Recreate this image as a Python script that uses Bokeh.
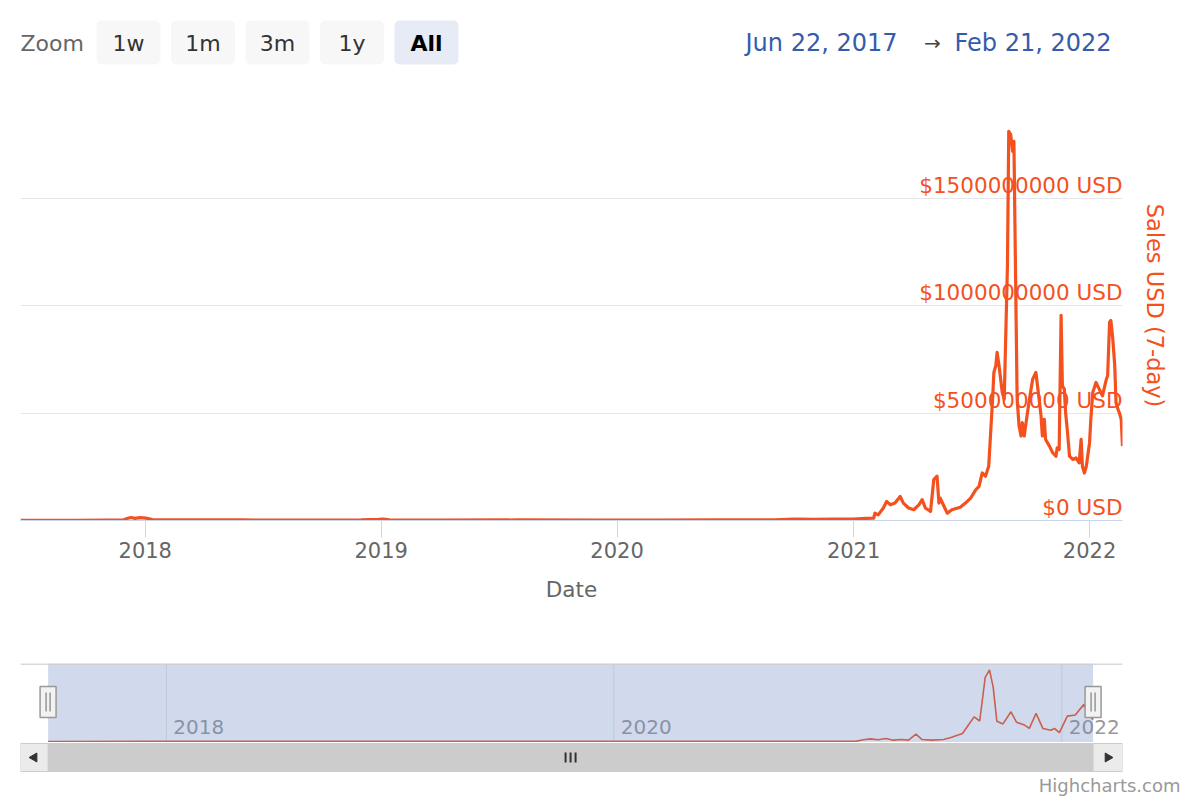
import pandas as pd
from bokeh.plotting import figure
from bokeh.models import (Range1d, LinearAxis, FixedTicker, Grid, DatetimeTickFormatter,
                          BoxAnnotation, Title)
from bokeh.layouts import column
from bokeh.core.properties import value
from bokeh.embed import file_html
from bokeh.resources import INLINE

# ---------------- data (USD millions, 7-day sales) ----------------
sales_dates = [
    "2017-06-22", "2017-08-01", "2017-09-15", "2017-11-01", "2017-11-28", "2017-12-04",
    "2017-12-10", "2017-12-16", "2017-12-24", "2018-01-02", "2018-01-12", "2018-02-15",
    "2018-04-01", "2018-06-01", "2018-09-01", "2018-12-01", "2018-12-28", "2019-01-04",
    "2019-01-14", "2019-04-01", "2019-08-01", "2019-12-01", "2020-03-01", "2020-06-01",
    "2020-09-01", "2020-10-01", "2020-11-01", "2020-12-01", "2021-01-01", "2021-01-20",
    "2021-02-01", "2021-02-03", "2021-02-08", "2021-02-16", "2021-02-21", "2021-02-27",
    "2021-03-06", "2021-03-14", "2021-03-19", "2021-03-27", "2021-04-04", "2021-04-12",
    "2021-04-17", "2021-04-22", "2021-04-30", "2021-05-05", "2021-05-10", "2021-05-13",
    "2021-05-15", "2021-05-21", "2021-05-26", "2021-06-02", "2021-06-15", "2021-06-23",
    "2021-07-01", "2021-07-09", "2021-07-14", "2021-07-19", "2021-07-24", "2021-07-29",
    "2021-08-01", "2021-08-04", "2021-08-06", "2021-08-09", "2021-08-11", "2021-08-14",
    "2021-08-19", "2021-08-22", "2021-08-27", "2021-08-29", "2021-09-01", "2021-09-04",
    "2021-09-06", "2021-09-09", "2021-09-11", "2021-09-14", "2021-09-17", "2021-09-19",
    "2021-09-22", "2021-09-24", "2021-09-30", "2021-10-05", "2021-10-10", "2021-10-15",
    "2021-10-18", "2021-10-20", "2021-10-23", "2021-10-25", "2021-10-31", "2021-11-05",
    "2021-11-10", "2021-11-12", "2021-11-15", "2021-11-18", "2021-11-20", "2021-11-23",
    "2021-11-25", "2021-11-28", "2021-12-01", "2021-12-06", "2021-12-11", "2021-12-16",
    "2021-12-19", "2021-12-21", "2021-12-24", "2021-12-27", "2022-01-01", "2022-01-03",
    "2022-01-06", "2022-01-11", "2022-01-16", "2022-01-21", "2022-01-27", "2022-01-29",
    "2022-02-01", "2022-02-03", "2022-02-06", "2022-02-09", "2022-02-11", "2022-02-14",
    "2022-02-16", "2022-02-19", "2022-02-21",
]
sales_musd = [
    0.5, 0.8, 1.0, 1.5, 2, 9,
    14, 10, 13, 11, 4, 3,
    3, 2.5, 2, 2.5, 5, 7,
    3, 2, 2.5, 2, 2, 2.5,
    3, 6, 5, 6, 7, 10,
    11, 34, 26, 58, 89, 73,
    81, 112, 81, 58, 50, 73,
    97, 58, 42, 190, 206, 81,
    104, 65, 34, 50, 62, 81,
    104, 143, 159, 221, 206, 252,
    408, 564, 689, 720, 782, 720,
    595, 564, 1187, 1810, 1795, 1717,
    1764, 1031, 564, 439, 393, 455,
    393, 439, 564, 657, 689, 564,
    486, 393, 471, 377, 346, 315,
    299, 338, 330, 954, 626, 611,
    502, 408, 299, 284, 291, 268,
    377, 252, 221, 252, 361, 471,
    595, 642, 611, 580, 657, 673,
    922, 930, 844, 720, 548, 517,
    502, 471, 346,
]

# navigator series (grouped / smoothed view of the same sales)
nav_dates = [
    "2017-06-22", "2017-12-12", "2018-01-15", "2019-01-05", "2020-10-01", "2021-01-25",
    "2021-01-30", "2021-02-11", "2021-02-23", "2021-03-07", "2021-03-20", "2021-04-01",
    "2021-04-14", "2021-04-26", "2021-05-08", "2021-05-18", "2021-06-03", "2021-06-22",
    "2021-07-04", "2021-07-23", "2021-08-01", "2021-08-11", "2021-08-20", "2021-08-29",
    "2021-09-05", "2021-09-11", "2021-09-17", "2021-09-27", "2021-10-10", "2021-10-19",
    "2021-11-01", "2021-11-09", "2021-11-20", "2021-12-01", "2021-12-14", "2021-12-20",
    "2021-12-28", "2022-01-10", "2022-01-23", "2022-02-06", "2022-02-11", "2022-02-21",
]
nav_musd = [
    1, 8, 3, 4, 4, 8,
    5, 43, 68, 45, 77, 34,
    50, 34, 188, 50, 34, 50,
    100, 205, 410, 630, 525, 1640,
    1835, 1390, 520, 450, 760, 495,
    420, 335, 720, 335, 290, 335,
    225, 650, 680, 950, 740, 560,
]

y_ticks = [0, 500_000_000, 1_000_000_000, 1_500_000_000, 2_000_000_000]
x_year_ticks = ["2018-01-01", "2019-01-01", "2020-01-01", "2021-01-01", "2022-01-01"]
nav_year_ticks = ["2018-01-01", "2020-01-01", "2022-01-01"]
zoom_buttons = ["1w", "1m", "3m", "1y", "All"]
selected_button = "All"
nav_span = ("2017-05-08", "2022-04-10")

# ---------------- styling ----------------
FONT = value("DejaVu Sans")
ORANGE = "#f4511e"
W = 1200
FRAME_L, FRAME_R = 20, 1122
BORDERS = dict(min_border_left=FRAME_L, min_border_right=W - FRAME_R)

sd = pd.to_datetime(sales_dates)
sv = [v * 1e6 for v in sales_musd]
nd = pd.to_datetime(nav_dates)
nv = [v * 1e6 for v in nav_musd]
t0, t1 = sd[0], sd[-1]


def ms(ts):
    return pd.Timestamp(ts).value / 1e6


def strip(fig):
    fig.outline_line_color = None
    for g in list(fig.grid):
        g.visible = False


# ---------------- header (zoom buttons + date range) ----------------
HH = 90
h = figure(width=W, height=HH, x_range=Range1d(FRAME_L, FRAME_R), y_range=Range1d(0, HH),
           output_backend="svg", toolbar_location=None, x_axis_location=None,
           y_axis_location=None, min_border_top=0, min_border_bottom=0, **BORDERS)
strip(h)
h.text(x=[20], y=[HH - 43], text=["Zoom"], text_font=FONT, text_font_size="22px",
       text_color="#666666", text_baseline="middle", text_align="left")
btn_left = 96
btn_w, btn_gap = 64, 10.5
for i, lab in enumerate(zoom_buttons):
    left = btn_left + i * (btn_w + btn_gap)
    sel = lab == selected_button
    h.add_layout(BoxAnnotation(left=left, right=left + btn_w, top=HH - 20, bottom=HH - 64,
                               fill_color="#e6ebf5" if sel else "#f7f7f7", fill_alpha=1.0,
                               line_color=None, border_radius=5, level="underlay"))
    h.text(x=[left + btn_w / 2], y=[HH - 43], text=[lab], text_font=FONT,
           text_font_size="22px", text_color="#000000" if sel else "#333333",
           text_font_style="bold" if sel else "normal",
           text_align="center", text_baseline="middle")
h.text(x=[745], y=[HH - 42], text=[t0.strftime("%b %d, %Y")], text_font=FONT,
       text_font_size="24px", text_color="#335cad", text_align="left", text_baseline="middle")
h.text(x=[932], y=[HH - 42], text=["\u2192"], text_font=FONT,
       text_font_size="20px", text_color="#444444", text_align="center", text_baseline="middle")
h.text(x=[1111], y=[HH - 42], text=[t1.strftime("%b %d, %Y")], text_font=FONT,
       text_font_size="24px", text_color="#335cad", text_align="right", text_baseline="middle")

# ---------------- main chart ----------------
p = figure(width=W, height=570, x_axis_type="datetime",
           x_range=Range1d(t0, t1), y_range=Range1d(0, y_ticks[-1]),
           output_backend="svg", toolbar_location=None, y_axis_location=None,
           min_border_top=0, min_border_bottom=140, **BORDERS)
strip(p)
p.add_layout(Grid(dimension=1, ticker=FixedTicker(ticks=y_ticks),
                  grid_line_color="#e6e6e6", grid_line_width=1))

xa = p.xaxis[0]
xa.ticker = FixedTicker(ticks=[ms(t) for t in x_year_ticks])
xa.formatter = DatetimeTickFormatter(years="%Y", months="%Y", days="%Y")
xa.axis_line_color = "#ccd6eb"
xa.major_tick_line_color = "#ccd6eb"
xa.major_tick_out = 17
xa.major_tick_in = 0
xa.minor_tick_line_color = None
xa.major_label_text_font = "DejaVu Sans"
xa.major_label_text_font_size = "21px"
xa.major_label_text_color = "#666666"
xa.major_label_standoff = 4
xa.axis_label = "Date"
xa.axis_label_text_font = "DejaVu Sans"
xa.axis_label_text_font_size = "21.5px"
xa.axis_label_text_font_style = "normal"
xa.axis_label_text_color = "#666666"
xa.axis_label_standoff = 16

ra = LinearAxis(ticker=FixedTicker(ticks=[]), axis_label="Sales USD (7-day)",
                axis_line_color=None, major_tick_line_color=None, minor_tick_line_color=None)
ra.axis_label_text_font = "DejaVu Sans"
ra.axis_label_text_font_size = "22.5px"
ra.axis_label_text_font_style = "normal"
ra.axis_label_text_color = ORANGE
ra.axis_label_standoff = 19
p.add_layout(ra, "right")

p.line(sd, sv, line_color=ORANGE, line_width=3.2, line_join="round")
p.text(x=[t1] * (len(y_ticks) - 1), y=y_ticks[:-1],
       text=[f"${v} USD" for v in y_ticks[:-1]], text_font=FONT, text_font_size="21.5px",
       text_color=ORANGE, text_align="right", text_baseline="alphabetic", y_offset=-13)

# ---------------- navigator ----------------
NAV_H = 79
ns, ne = pd.Timestamp(nav_span[0]), pd.Timestamp(nav_span[1])
n = figure(width=W, height=NAV_H + 3, x_axis_type="datetime", x_range=Range1d(ns, ne),
           y_range=Range1d(-25.6e6, 1996e6), output_backend="svg", toolbar_location=None,
           x_axis_location=None, y_axis_location=None,
           min_border_top=3, min_border_bottom=0, **BORDERS)
strip(n)
n.extra_y_ranges = {"px": Range1d(0, NAV_H)}
nyt = pd.to_datetime(nav_year_ticks)
n.segment(x0=nyt, x1=nyt, y0=[0] * len(nyt), y1=[NAV_H] * len(nyt),
          line_color="#e6e6e6", line_width=1, y_range_name="px")
n.text(x=nyt, y=[16] * len(nyt), text=[t.strftime("%Y") for t in nyt], text_font=FONT,
       text_font_size="20px", text_color="#999999", text_align="left",
       text_baseline="middle", x_offset=7, y_range_name="px")
n.line(nd, nv, line_color=ORANGE, line_width=1.6)
n.quad(left=[t0], right=[t1], bottom=[0], top=[NAV_H], fill_color="#6685c2",
       fill_alpha=0.3, line_color=None, y_range_name="px")
n.segment(x0=[ns], x1=[ne], y0=[NAV_H - 0.5], y1=[NAV_H - 0.5], line_color="#cccccc",
          line_width=1.5, y_range_name="px")
ms_per_px = (ne - ns) / pd.Timedelta(milliseconds=1) / (FRAME_R - FRAME_L)
n.rect(x=[t0, t1], y=[40.5, 40.5], width=16, height=31, width_units="screen",
       height_units="screen", fill_color="#f2f2f2", line_color="#999999", line_width=1.5,
       y_range_name="px")
off = pd.Timedelta(milliseconds=2 * ms_per_px)
hx = [t0 - off, t0 + off, t1 - off, t1 + off]
n.segment(x0=hx, x1=hx, y0=[31] * 4, y1=[50] * 4, line_color="#888888", line_width=1.3,
          y_range_name="px")

# ---------------- scrollbar + credits ----------------
SB_H = 30
SH = 58


def npx(t):
    return FRAME_L + (pd.Timestamp(t) - ns) / (ne - ns) * (FRAME_R - FRAME_L)


s = figure(width=W, height=SH, x_range=Range1d(FRAME_L, FRAME_R), y_range=Range1d(0, SB_H),
           output_backend="svg", toolbar_location=None, x_axis_location=None,
           y_axis_location=None, min_border_top=0, min_border_bottom=SH - SB_H, **BORDERS)
strip(s)
a, b = npx(t0), npx(t1)
sb_top, sb_bot = SB_H - 1, 1
s.quad(left=[a], right=[b], top=[sb_top], bottom=[sb_bot], fill_color="#cccccc",
       line_color="#cccccc")
s.quad(left=[FRAME_L, b], right=[a, FRAME_R], top=[sb_top] * 2, bottom=[sb_bot] * 2,
       fill_color="#ebebeb", line_color="#cccccc", line_width=1)
s.scatter(x=[(FRAME_L + a) / 2, (b + FRAME_R) / 2], y=[(sb_top + sb_bot) / 2] * 2,
          marker="triangle", angle=[1.5708, -1.5708], size=9, fill_color="#333333",
          line_color="#333333")
mid = (a + b) / 2
gx = [mid - 5, mid, mid + 5]
s.segment(x0=gx, x1=gx, y0=[sb_bot + 9] * 3, y1=[sb_top - 9] * 3, line_color="#333333",
          line_width=2)
credit = Title(text="Highcharts.com", align="right", offset=-58, standoff=0,
               text_font="DejaVu Sans", text_font_size="18px", text_font_style="normal",
               text_color="#999999")
s.add_layout(credit, "below")

layout = column(h, p, n, s, spacing=0)
open("out.html", "w").write(file_html(layout, INLINE))
